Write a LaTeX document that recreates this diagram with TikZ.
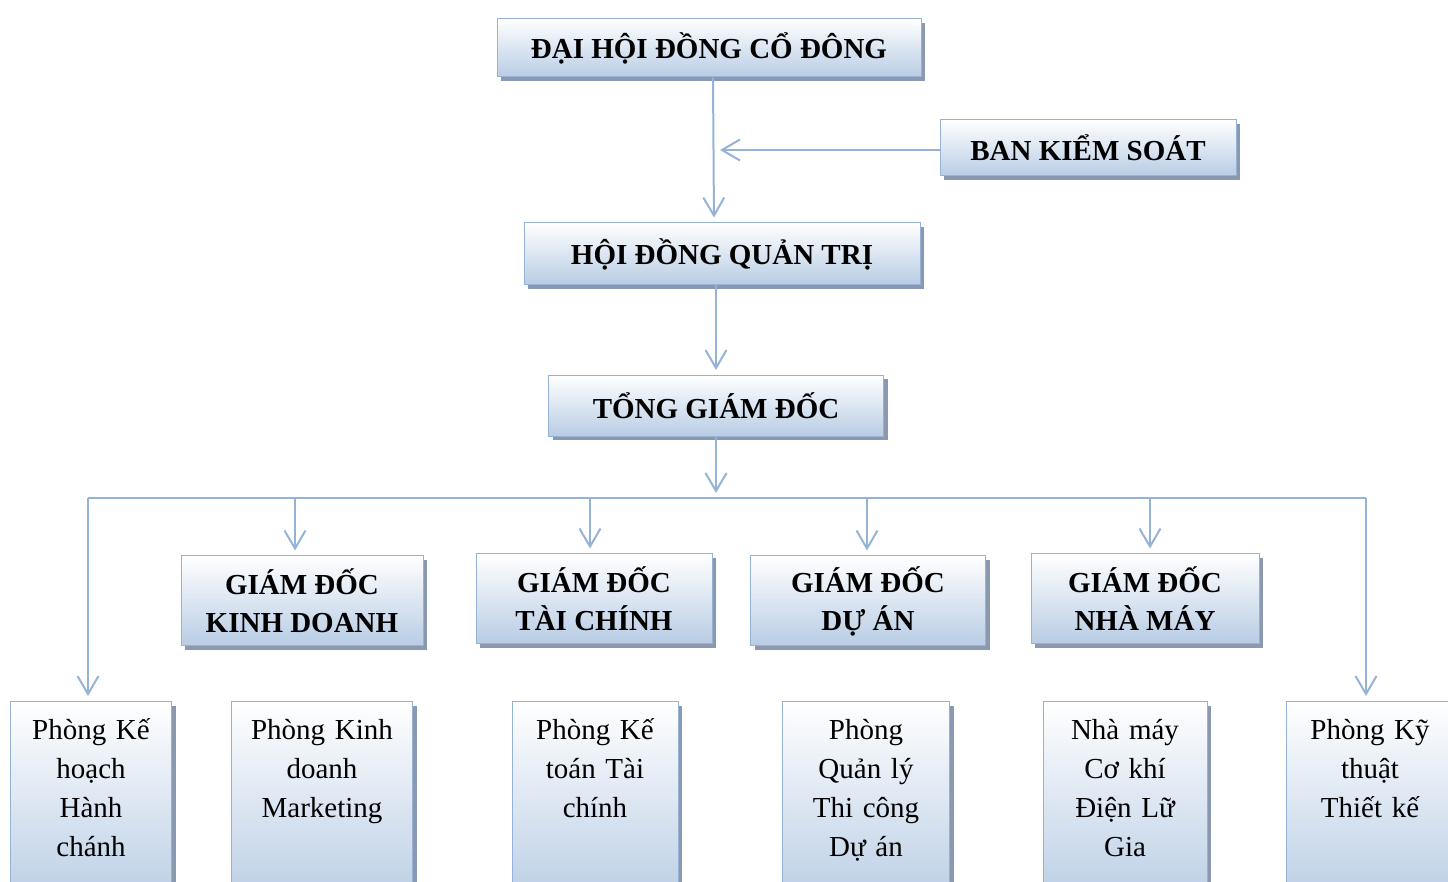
\documentclass[tikz,border=0pt]{standalone}
\usepackage{fontspec}
\setmainfont{Liberation Serif}
\usepackage{xcolor}
\usepackage{tikz}
\usetikzlibrary{positioning,%
  arrows.meta,%
  shadows,%
  calc
}

\definecolor{lineblue}{RGB}{149,179,215}
\definecolor{boxblue}{RGB}{184,204,228}
\definecolor{shadowgray}{RGB}{138,153,175}

\begin{document}
\begin{tikzpicture}[x=0.5pt,y=-0.5pt,
    box/.style={draw=lineblue,line width=0.5pt,top color=white,bottom color=boxblue,
      drop shadow={shadow xshift=2pt,shadow yshift=-2pt,fill=shadowgray,opacity=1},
      align=center,inner sep=0pt},
    headbox/.style={box,font=\fontsize{14.5}{19}\selectfont\bfseries},
    deptbox/.style={box,anchor=north,font=\fontsize{14.5}{19.5}\selectfont,
      text width=#1,text height=14pt,text depth=80pt,inner ysep=5pt},
    link/.style={draw=lineblue,line width=1pt},
    arr/.style={link,-{Straight Barb[length=9pt,width=10.5pt,line width=1pt]},shorten >=2.5pt}]
  \useasboundingbox (0,0) rectangle (1448,882);
  \clip (0,0) rectangle (1448,882);

  % top of the chart
  \node[headbox,minimum width=212pt,minimum height=29pt] (dhcd) at (709,48) {ĐẠI HỘI ĐỒNG CỔ ĐÔNG};
  \node[headbox,minimum width=148pt,minimum height=28pt] (bks) at (1088,148) {BAN KIỂM SOÁT};
  \node[headbox,minimum width=198pt,minimum height=31pt] (hdqt) at (722,254) {HỘI ĐỒNG QUẢN TRỊ};
  \node[headbox,minimum width=167.5pt,minimum height=30.5pt] (tgd) at (716,406) {TỔNG GIÁM ĐỐC};

  % directors
  \node[headbox,minimum width=121pt,minimum height=45pt] (gdkd) at (302,601) {GIÁM ĐỐC\\KINH DOANH};
  \node[headbox,minimum width=118pt,minimum height=45pt] (gdtc) at (594,599) {GIÁM ĐỐC\\TÀI CHÍNH};
  \node[headbox,minimum width=117.5pt,minimum height=45pt] (gdda) at (868,601) {GIÁM ĐỐC\\DỰ ÁN};
  \node[headbox,minimum width=114pt,minimum height=45pt] (gdnm) at (1145,599) {GIÁM ĐỐC\\NHÀ MÁY};

  % departments
  \node[deptbox=80.5pt] (pkh) at (91,701) {Phòng Kế\\hoạch\\Hành\\chánh};
  \node[deptbox=90.5pt] (pkd) at (322,701) {Phòng Kinh\\doanh\\Marketing};
  \node[deptbox=83pt] (pkt) at (595,701) {Phòng Kế\\toán Tài\\chính};
  \node[deptbox=83.5pt] (pql) at (866,701) {Phòng\\Quản lý\\Thi công\\Dự án};
  \node[deptbox=82pt] (nmck) at (1125,701) {Nhà máy\\Cơ khí\\Điện Lữ\\Gia};
  \node[deptbox=84pt] (pktk) at (1370,701) {Phòng Kỹ\\thuật\\Thiết kế};

  \coordinate (mid) at (715,150);
  \coordinate (busL) at (88,498);
  \coordinate (busR) at (1366,498);

  \draw[arr] ([xshift=2pt]dhcd.south) -- ([xshift=-4pt]hdqt.north);
  \draw[arr] (bks.west |- mid) -- (mid);
  \draw[arr] ([xshift=-3pt]hdqt.south) -- (tgd.north);
  \draw[arr] (tgd.south) -- (tgd.south |- busL);
  \draw[link] (busL) -- (busR);
  \draw[arr] (busL) -- (busL |- pkh.north);
  \draw[arr] (busR) -- (busR |- pktk.north);
  \foreach \n/\x in {gdkd/295,gdtc/590,gdda/867,gdnm/1150}
    \draw[arr] (\x,498) -- (\x,0 |- \n.north);
\end{tikzpicture}
\end{document}
